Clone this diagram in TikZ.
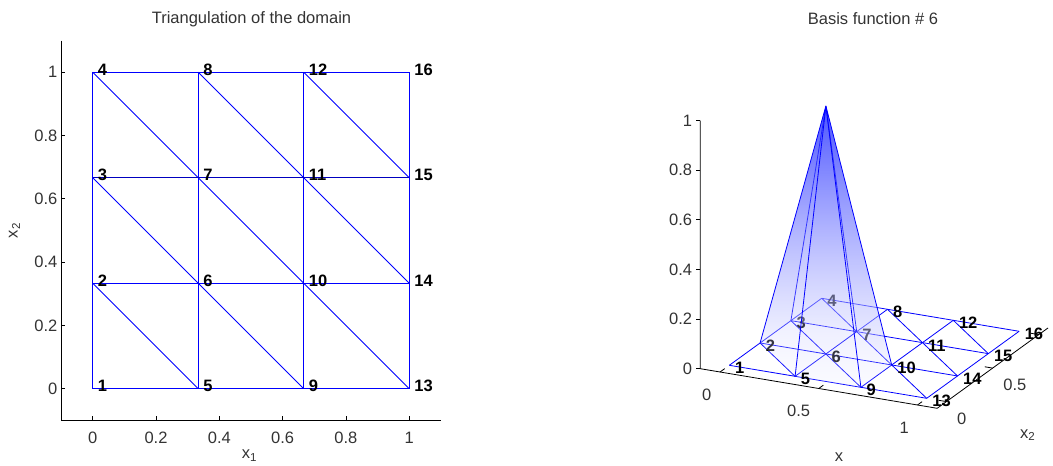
\documentclass[tikz,border=0pt]{standalone}
\usepackage{fontspec}
\setmainfont{Liberation Sans}
\usetikzlibrary{fadings}

\definecolor{peakblue}{RGB}{40,50,255}
\definecolor{baseblue}{RGB}{235,236,255}
\tikzfading[name=rise, top color=transparent!40, bottom color=transparent!80]

\tikzset{
  meshline/.style={draw=blue, line width=0.8pt},
  axisline/.style={draw=black, line width=0.8pt},
  ticklab/.style={font=\fontsize{16.5}{18}\selectfont, text=black!80, inner sep=0pt},
  nodenum/.style={font=\fontsize{16.5}{18}\selectfont\bfseries, anchor=west, inner sep=0pt},
  face/.style={top color=peakblue, bottom color=baseblue, path fading=rise},
}

\begin{document}
\begin{tikzpicture}[x=1pt, y=1pt]
\useasboundingbox (0,0) rectangle (1053,466);

% triangulation
\node[ticklab] (lefttitle) at (251.5,446.5) {Triangulation of the domain};
\node[ticklab, anchor=base west] (leftxlab) at (241.7,7.5) {x\textsubscript{1}};
\node[ticklab, anchor=base, rotate=90] (leftylab) at (17.5,235.5) {x\textsubscript{2}};
\begin{scope}[shift={(92.7,77.3)}, x=316.5pt, y=316.5pt]
  \coordinate (o) at (-0.1,-0.1);
  \coordinate (xend) at (1.1,-0.1);
  \coordinate (yend) at (-0.1,1.1);
  \draw[axisline] (yend) -- (o) -- (xend);
  \foreach \t [count=\c] in {0,0.2,0.4,0.6,0.8,1} {
    \draw[axisline] (\t,-0.1) -- ++(0pt,4pt);
    \draw[axisline] (-0.1,\t) -- ++(4pt,0pt);
    \node[ticklab] (xt\c) at (\t,-0.156) {\t};
    \node[ticklab, anchor=east] (yt\c) at (-0.111,\t) {\t};
  }
  \foreach \k in {1,...,16} {
    \pgfmathtruncatemacro\i{(\k-1)/4}
    \pgfmathtruncatemacro\j{mod(\k-1,4)}
    \coordinate (n\k) at (\i/3,\j/3);
  }
  \foreach \a/\b in {1/13,2/14,4/16,1/4,5/8,9/12,13/16,2/5,3/9,4/13,8/14,12/15}
    \draw[meshline] (n\a) -- (n\b);
  \draw[meshline, draw=blue!75!black] (n3) -- (n15);
  \foreach \k in {1,...,16}
    \node[nodenum, xshift=5pt, yshift=2.5pt] (m\k) at (n\k) {\k};
\end{scope}

% basis function
\node[ticklab] (righttitle) at (873,447) {Basis function \# 6};
\node[ticklab, anchor=base] (rightxlab) at (839,4.3) {x};
\node[ticklab, anchor=base west] (rightylab) at (1020,27.7) {x\textsubscript{2}};
\begin{scope}[shift={(729.3,100.7)}, x={(197.4pt,-33pt)}, y={(92.4pt,67pt)}, z={(0pt,248pt)}]
  \coordinate (q0) at (-0.1,-0.1,0);
  \coordinate (qx) at (1.1,-0.1,0);
  \coordinate (qy) at (1.1,1.1,0);
  \coordinate (qz) at (-0.1,-0.1,1);
  \draw[axisline] (qz) -- (q0) -- (qx) -- (qy);
  \foreach \t [count=\c] in {0,0.2,0.4,0.6,0.8,1} {
    \draw[axisline] (-0.1,-0.1,\t) -- ++(-4pt,0pt);
    \node[ticklab, anchor=east, xshift=-8pt] (zt\c) at (-0.1,-0.1,\t) {\t};
  }
  \foreach \t [count=\c] in {0,0.5,1} {
    \draw[axisline] (\t,-0.1,0) -- (\t,-0.05,0);
    \draw[axisline] (1.1,\t,0) -- (1.06,\t,0);
    \node[ticklab, anchor=east, xshift=-8.5pt, yshift=-22.7pt] (xs\c) at (\t,-0.1,0) {\t};
  }
  \foreach \t [count=\c] in {0,0.5}
    \node[ticklab, anchor=west, xshift=10.5pt, yshift=-17pt] (ys\c) at (1.1,\t,0) {\t};
  \foreach \k in {1,...,16} {
    \pgfmathtruncatemacro\i{(\k-1)/4}
    \pgfmathtruncatemacro\j{mod(\k-1,4)}
    \coordinate (p\k) at (\i/3,\j/3,0);
  }
  \coordinate (top) at (1/3,1/3,1);
  \foreach \a/\b in {1/13,2/14,3/15,4/16,1/4,5/8,9/12,13/16,2/5,3/9,4/13,8/14,12/15}
    \draw[meshline] (p\a) -- (p\b);
  \foreach \k in {2,3,4,6,7}
    \node[nodenum, xshift=5.5pt, yshift=-2.7pt] (r\k) at (p\k) {\k};
  \foreach \a/\b in {2/3,3/7,7/10}
    \shade[face] (top) -- (p\a) -- (p\b) -- cycle;
  \draw[meshline] (top) -- (p3) (top) -- (p7);
  \foreach \a/\b in {10/9,9/5,5/2}
    \shade[face] (top) -- (p\a) -- (p\b) -- cycle;
  \draw[meshline] (top) -- (p2) (top) -- (p5) (top) -- (p9) (top) -- (p10);
  \foreach \k in {1,5,8,9,...,16}
    \node[nodenum, xshift=5.5pt, yshift=-2.7pt] (r\k) at (p\k) {\k};
\end{scope}
\end{tikzpicture}
\end{document}
